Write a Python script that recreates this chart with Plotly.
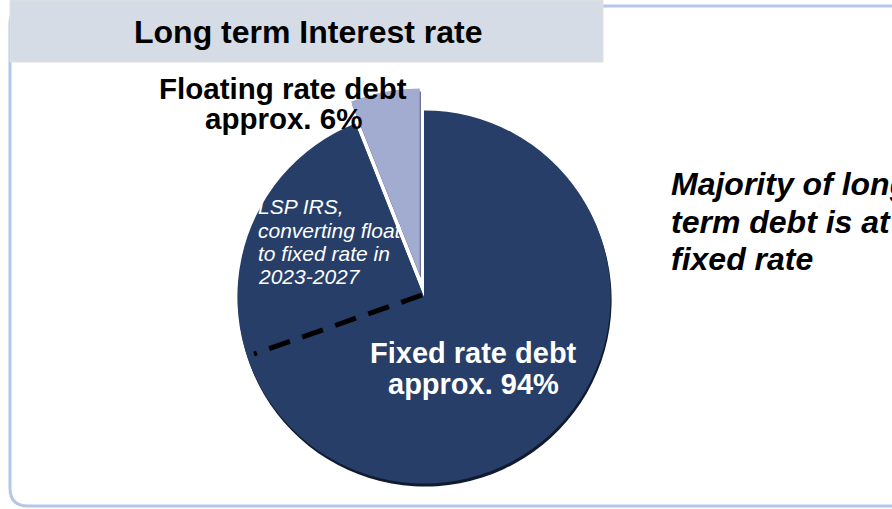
import plotly.graph_objects as go

# ---- data ----
slice_labels = ["Fixed rate debt", "Floating rate debt"]
slice_values = [94, 6]
slice_colors = ["#273e68", "#a2abd0"]
shadow_colors = ["#111b30", "#4c557c"]
slice_pull = [0, 0.12]

title_text = "Long term Interest rate"
float_lines = ["Floating rate debt", "approx. 6%"]
fixed_lines = ["Fixed rate debt", "approx. 94%"]
irs_lines = ["LSP IRS,", "converting float", "to fixed rate in", "2023-2027"]
side_lines = ["Majority of long", "term debt is at", "fixed rate"]

W, H = 892, 509
FONT = "Liberation Sans, Arial, sans-serif"


def px(x):
    return x / W


def py(y):
    return 1 - y / H


fig = go.Figure()

# shadow pie (3D rim)
fig.add_trace(go.Pie(
    labels=slice_labels, values=slice_values, sort=False,
    direction="counterclockwise", rotation=0, pull=slice_pull,
    marker=dict(colors=shadow_colors, line=dict(width=0)),
    textinfo="none", hoverinfo="skip", showlegend=False,
    domain=dict(x=[px(216), px(634)], y=[py(509), py(91)]),
))
# main pie
fig.add_trace(go.Pie(
    labels=slice_labels, values=slice_values, sort=False,
    direction="counterclockwise", rotation=0, pull=slice_pull,
    marker=dict(colors=slice_colors, line=dict(width=0)),
    textinfo="none", hoverinfo="label+percent", showlegend=False,
    domain=dict(x=[px(215), px(633)], y=[py(506), py(88)]),
))

shapes = []
# rounded frame
path = (f"M {px(900)},{py(6)} L {px(28)},{py(6)} Q {px(10)},{py(6)} {px(10)},{py(24)} "
        f"L {px(10)},{py(488)} Q {px(10)},{py(506)} {px(28)},{py(506)} L {px(900)},{py(506)}")
shapes.append(dict(type="path", xref="paper", yref="paper", path=path,
                   line=dict(color="#b4c7e7", width=3), layer="below"))
# title box
shapes.append(dict(type="rect", xref="paper", yref="paper",
                   x0=px(10), x1=px(603), y0=py(62), y1=py(0),
                   fillcolor="#d6dce6", line=dict(color="#e0e0e0", width=1)))
# dashed line
shapes.append(dict(type="line", xref="paper", yref="paper",
                   x0=px(422), y0=py(295), x1=px(254), y1=py(354),
                   line=dict(color="black", width=5, dash="22px,13px")))

annotations = []


def add_text(text, x, y, size, color="black", bold=False, italic=False, xanchor="center"):
    t = text
    if bold:
        t = f"<b>{t}</b>"
    if italic:
        t = f"<i>{t}</i>"
    annotations.append(dict(text=t, x=px(x), y=py(y), xref="paper", yref="paper",
                            xanchor=xanchor, yanchor="middle", showarrow=False,
                            font=dict(family=FONT, size=size, color=color)))


add_text(title_text, 308, 32, 32, bold=True)
for i, line in enumerate(float_lines):
    add_text(line, 283, 88 + 30 * i, 29.5, bold=True)
for i, line in enumerate(fixed_lines):
    add_text(line, 473, 353 + 31 * i, 29, color="white", bold=True)
for i, line in enumerate(irs_lines):
    add_text(line, 256, 207 + 23.3 * i, 21, color="white", italic=True, xanchor="left")
for i, line in enumerate(side_lines):
    add_text(line, 669, 184 + 37.5 * i, 32, bold=True, italic=True, xanchor="left")

fig.update_layout(
    width=W, height=H, margin=dict(l=0, r=0, t=0, b=0),
    paper_bgcolor="white", plot_bgcolor="white",
    showlegend=False, shapes=shapes, annotations=annotations,
)

fig.write_html("out.html")
